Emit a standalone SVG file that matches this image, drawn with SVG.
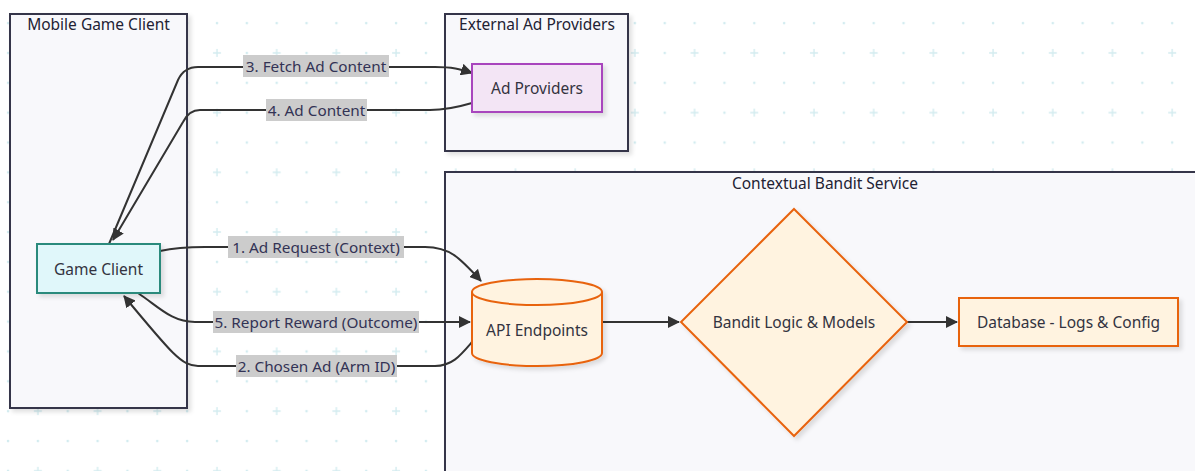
<svg xmlns="http://www.w3.org/2000/svg" width="1195" height="471" viewBox="0 0 1195 471">
  <style>
    text { font-family: "Noto Sans", "Open Sans", sans-serif; fill: #333340; }
    .title { font-size: 15.5px; text-anchor: middle; fill: #222233; }
    .lbl { font-size: 15.5px; text-anchor: middle; dominant-baseline: central; }
    .elbl { font-size: 15.3px; text-anchor: middle; dominant-baseline: central; fill: #333355; }
    .cluster { fill: #f8f8fb; stroke: #35354a; stroke-width: 2; filter: url(#shadow); }
    .edge { fill: none; stroke: #333333; stroke-width: 2; }
    .lblbg { fill: #cccccc; }
    .svc { fill: #fff3e0; stroke: #e8630f; stroke-width: 2; filter: url(#shadow); }
  </style>
  <defs>
    <pattern id="grid" patternUnits="userSpaceOnUse" x="22.9" y="38" width="59.7" height="59.7">
      <path d="M11,15 H19 M15,11 V19" stroke="#d3ecf0" stroke-width="1.4"/>
      <circle cx="44.85" cy="15" r="1.3" fill="#d3ecf0"/>
      <circle cx="15" cy="44.85" r="1.3" fill="#d3ecf0"/>
      <circle cx="44.85" cy="44.85" r="1.3" fill="#d3ecf0"/>
    </pattern>
    <filter id="shadow" x="-10%" y="-10%" width="130%" height="130%">
      <feDropShadow dx="3" dy="3" stdDeviation="2" flood-color="#000000" flood-opacity="0.12"/>
    </filter>
    <marker id="arrow" viewBox="0 0 12 12" refX="11" refY="6" markerWidth="12" markerHeight="12" markerUnits="userSpaceOnUse" orient="auto">
      <path d="M0,0 L12,6 L0,12 Z" fill="#333333"/>
    </marker>
  </defs>

  <!-- canvas -->
  <rect x="0" y="0" width="1195" height="471" fill="#ffffff"/>
  <rect x="0" y="0" width="1195" height="471" fill="url(#grid)"/>

  <!-- clusters -->
  <g id="cluster-mobile">
    <rect class="cluster" x="10" y="14" width="177" height="394"/>
    <text class="title" x="98.5" y="30">Mobile Game Client</text>
  </g>
  <g id="cluster-external">
    <rect class="cluster" x="445" y="14" width="183" height="137"/>
    <text class="title" x="537" y="30">External Ad Providers</text>
  </g>
  <g id="cluster-bandit">
    <rect class="cluster" x="445" y="172" width="800" height="340"/>
    <text class="title" x="825" y="189">Contextual Bandit Service</text>
  </g>

  <!-- connectors -->
  <g id="connectors">
    <path class="edge" d="M160,251 Q178,247 205,247 L425,247 C450,247 460,258 481,281" marker-end="url(#arrow)"/>
    <path class="edge" d="M472,342 C460,356 452,366 435,366 L198,366 C182,366 172,354 124,296" marker-end="url(#arrow)"/>
    <path class="edge" d="M109,244 L178,80 Q184,67 198,67 L435,67 C452,67 460,69 472,73" marker-end="url(#arrow)"/>
    <path class="edge" d="M472,103 C455,108 445,110 430,110 L200,110 Q189,110 183,122 L113,240" marker-end="url(#arrow)"/>
    <path class="edge" d="M138,293 C160,308 172,322 195,322 L470,322" marker-end="url(#arrow)"/>
    <path class="edge" d="M602,322 L679,322" marker-end="url(#arrow)"/>
    <path class="edge" d="M907,322 L957,322" marker-end="url(#arrow)"/>

    <g id="edge-labels">
      <rect class="lblbg" x="243" y="55" width="146" height="22"/>
      <text class="elbl" x="316" y="66">3. Fetch Ad Content</text>
      <rect class="lblbg" x="266" y="99" width="101" height="22"/>
      <text class="elbl" x="316.5" y="110">4. Ad Content</text>
      <rect class="lblbg" x="228" y="236" width="176" height="22"/>
      <text class="elbl" x="316" y="247">1. Ad Request (Context)</text>
      <rect class="lblbg" x="213" y="311" width="206" height="22"/>
      <text class="elbl" x="316" y="322">5. Report Reward (Outcome)</text>
      <rect class="lblbg" x="236" y="355" width="161" height="22"/>
      <text class="elbl" x="316.5" y="366">2. Chosen Ad (Arm ID)</text>
    </g>
  </g>

  <!-- nodes -->
  <g id="game-client">
    <rect x="37" y="244" width="123" height="49" fill="#e0f7fa" stroke="#2a8a7c" stroke-width="2" filter="url(#shadow)"/>
    <text class="lbl" x="98.5" y="268.5">Game Client</text>
  </g>
  <g id="ad-providers">
    <rect x="472" y="64" width="130" height="48" fill="#f3e5f5" stroke="#a844bd" stroke-width="2" filter="url(#shadow)"/>
    <text class="lbl" x="537" y="88">Ad Providers</text>
  </g>
  <g id="api-endpoints">
    <path class="svc" d="M472,292 a65,13 0 0,0 130,0 a65,13 0 0,0 -130,0 L472,353 a65,13 0 0,0 130,0 L602,292"/>
    <text class="lbl" x="537" y="330">API Endpoints</text>
  </g>
  <g id="bandit-logic">
    <polygon class="svc" points="794,209 907,322 794,436 681,322"/>
    <text class="lbl" x="794" y="322">Bandit Logic &amp; Models</text>
  </g>
  <g id="database">
    <rect class="svc" x="959" y="298" width="219" height="48"/>
    <text class="lbl" x="1068.5" y="322">Database - Logs &amp; Config</text>
  </g>
</svg>
